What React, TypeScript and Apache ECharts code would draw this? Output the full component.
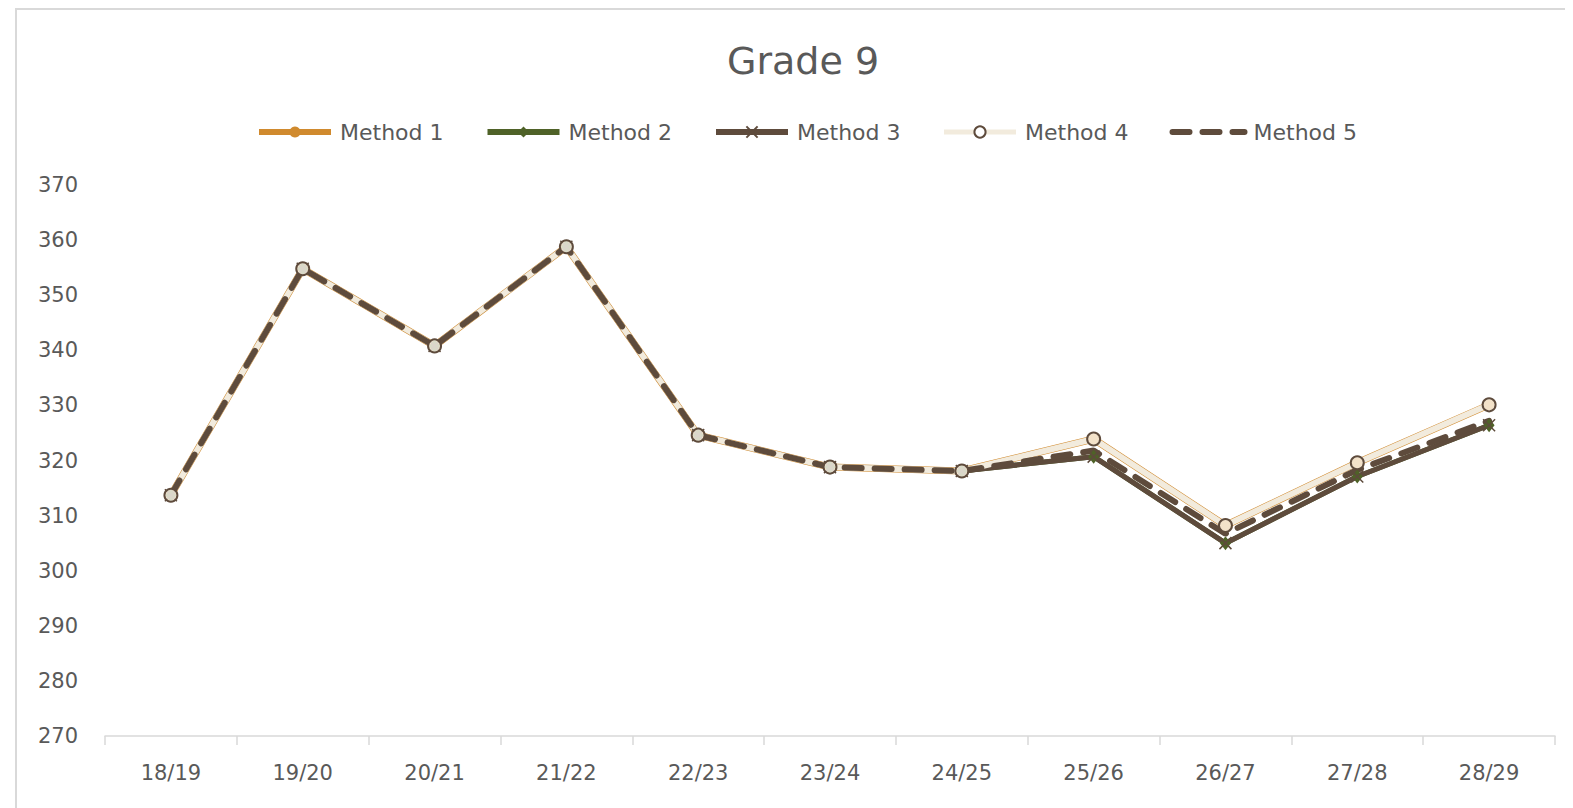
import React, { useEffect, useRef } from "react";
import * as echarts from "echarts";

const categories = ["18/19", "19/20", "20/21", "21/22", "22/23", "23/24", "24/25", "25/26", "26/27", "27/28", "28/29"];
const method1 = [313.7, 354.8, 340.8, 358.8, 324.6, 318.8, 318.1, 323.9, 308.2, 319.6, 330.1];
const method2 = [313.7, 354.8, 340.8, 358.8, 324.6, 318.8, 318.1, 320.7, 305.0, 317.1, 326.4];
const method3 = [313.7, 354.8, 340.8, 358.8, 324.6, 318.8, 318.1, 320.7, 305.0, 317.1, 326.4];
const method4 = [313.7, 354.8, 340.8, 358.8, 324.6, 318.8, 318.1, 323.9, 308.2, 319.6, 330.1];
const method5 = [313.7, 354.8, 340.8, 358.8, 324.6, 318.8, 318.1, 321.8, 306.7, 318.3, 327.2];
const seriesNames = ["Method 1", "Method 2", "Method 3", "Method 4", "Method 5"];
const yMin = 270;
const yMax = 370;
const yStep = 10;

const FONT = "'DejaVu Sans', sans-serif";
const TEXT = "#595959";
const BROWN = "#5E4B3C";
const ORANGE = "#D08A2E";
const GREEN = "#4F6228";
const BEIGE = "#F2EBDD";

export default function App() {
  const ref = useRef<HTMLDivElement>(null);
  useEffect(() => {
    if (!ref.current) return;
    const chart = echarts.init(ref.current, undefined, { renderer: "svg" });
    chart.setOption({
      animation: false,
      backgroundColor: "#ffffff",
      title: {
        text: "Grade 9",
        left: 714,
        top: 29,
        textStyle: { fontFamily: FONT, fontSize: 38, fontWeight: "normal", color: TEXT },
      },
      legend: {
        top: 108,
        left: 243,
        itemWidth: 72,
        itemHeight: 14,
        itemGap: 41,
        textStyle: { fontFamily: FONT, fontSize: 22, color: TEXT, padding: [0, 0, 0, 4] },
        data: [
          { name: seriesNames[0], lineStyle: { width: 6 } },
          { name: seriesNames[1], lineStyle: { width: 6 } },
          { name: seriesNames[2], lineStyle: { width: 6 } },
          { name: seriesNames[3], lineStyle: { width: 5 }, itemStyle: { color: "#ffffff", borderColor: BROWN, borderWidth: 2 } },
          { name: seriesNames[4], lineStyle: { width: 6 }, itemStyle: { opacity: 0 } },
        ],
      },
      graphic: [
        {
          type: "rect",
          shape: { x: 8, y: 1, width: 1600, height: 900 },
          style: { fill: "none", stroke: "#d9d9d9", lineWidth: 2 },
          silent: true,
        },
      ],
      grid: { left: 97, right: 18, top: 177, bottom: 72 },
      xAxis: {
        type: "category",
        data: categories,
        boundaryGap: true,
        axisLine: { lineStyle: { color: "#d9d9d9", width: 1.5 } },
        axisTick: { show: true, length: 9, lineStyle: { color: "#d9d9d9", width: 1.5 } },
        axisLabel: { fontFamily: FONT, fontSize: 21, color: TEXT, margin: 26 },
      },
      yAxis: {
        type: "value",
        min: yMin,
        max: yMax,
        interval: yStep,
        axisLine: { show: false },
        axisTick: { show: false },
        splitLine: { show: false },
        axisLabel: { fontFamily: FONT, fontSize: 21, color: TEXT, margin: 27 },
      },
      series: [
        {
          name: "Method 1",
          type: "line",
          data: method1,
          symbol: "circle",
          symbolSize: 11,
          color: ORANGE,
          lineStyle: { color: ORANGE, width: 7 },
          itemStyle: { color: ORANGE },
        },
        {
          name: "Method 2",
          type: "line",
          data: method2,
          symbol: "diamond",
          symbolSize: [11, 14],
          color: GREEN,
          lineStyle: { color: GREEN, width: 5 },
          itemStyle: { color: GREEN },
        },
        {
          name: "Method 3",
          type: "line",
          data: method3,
          symbol: "path://M0,0L10,10M10,0L0,10",
          symbolSize: 12,
          color: BROWN,
          lineStyle: { color: BROWN, width: 5 },
          itemStyle: { color: "rgba(0,0,0,0)", borderColor: BROWN, borderWidth: 1.5 },
        },
        {
          name: "Method 4",
          type: "line",
          data: method4,
          symbol: "circle",
          symbolSize: 13,
          color: BEIGE,
          lineStyle: { color: BEIGE, width: 6 },
          itemStyle: { color: "rgba(251,247,240,0.8)", borderColor: BROWN, borderWidth: 2 },
        },
        {
          name: "Method 5",
          type: "line",
          data: method5,
          symbol: "none",
          color: BROWN,
          lineStyle: { color: BROWN, width: 6, type: [17, 13], cap: "round" },
        },
      ],
    });
    return () => chart.dispose();
  }, []);
  return <div ref={ref} style={{ width: 1565, height: 800 }} />;
}
